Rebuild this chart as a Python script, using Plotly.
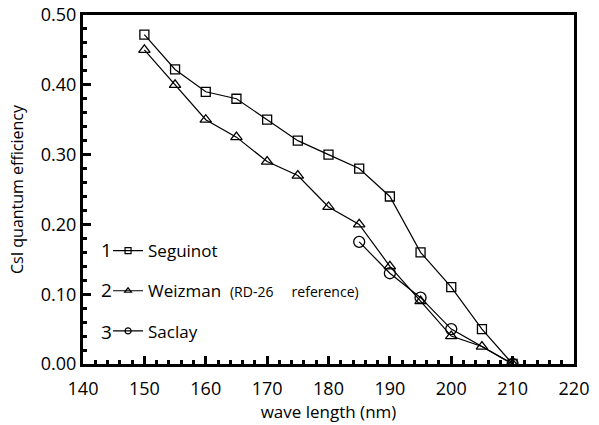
import plotly.graph_objects as go

wl_seg = [150, 155, 160, 165, 170, 175, 180, 185, 190, 195, 200, 205, 210]
qe_seg = [0.472, 0.422, 0.390, 0.380, 0.350, 0.320, 0.300, 0.280, 0.240, 0.160, 0.110, 0.050, 0.000]

wl_wei = [150, 155, 160, 165, 170, 175, 180, 185, 190, 195, 200, 205, 210]
qe_wei = [0.450, 0.400, 0.350, 0.325, 0.290, 0.270, 0.225, 0.200, 0.140, 0.090, 0.040, 0.025, 0.000]

wl_sac = [185, 190, 195, 200, 210]
qe_sac = [0.175, 0.130, 0.095, 0.050, 0.000]

x_ticks = [140, 150, 160, 170, 180, 190, 200, 210, 220]
y_ticks = [0.0, 0.1, 0.2, 0.3, 0.4, 0.5]

series_names = [
    "Seguinot",
    "Weizman&nbsp;&nbsp;<span style='font-size:14px'>(RD-26&nbsp;&nbsp;&nbsp;&nbsp;&nbsp;reference)</span>",
    "Saclay",
]
series_numbers = ["1", "2", "3"]
symbols = ["square-open", "triangle-up-open", "circle-open"]
marker_sizes = [9, 10, 11]

FONT = "Open Sans"

fig = go.Figure()
for (xs, ys), sym, ms in zip([(wl_seg, qe_seg), (wl_wei, qe_wei), (wl_sac, qe_sac)], symbols, marker_sizes):
    fig.add_trace(go.Scatter(
        x=xs, y=ys, mode="lines+markers", showlegend=False,
        line=dict(color="black", width=1.2),
        marker=dict(symbol=sym, size=ms, color="black", line=dict(width=1.3))))

# legend-only entries with small symbols (no data plotted)
for i, (name, sym) in enumerate(zip(series_names, symbols)):
    fig.add_trace(go.Scatter(
        x=[None], y=[None], mode="lines+markers", name=name, legendgroup=str(i),
        line=dict(color="black", width=1.2),
        marker=dict(symbol=sym, size=6, color="black", line=dict(width=1.2))))

axis_common = dict(
    showgrid=False, zeroline=False, showline=True, linecolor="black", linewidth=3,
    mirror=True, ticks="inside", ticklen=8, tickwidth=2.5, tickcolor="black",
    tickfont=dict(family=FONT, size=18, color="black"), automargin=False,
)

fig.update_xaxes(
    range=[140, 220], tickvals=x_ticks, ticklabelstandoff=6,
    minor=dict(dtick=2, ticks="inside", ticklen=4, tickwidth=2.5, tickcolor="black"),
    title=dict(text="wave length (nm)", font=dict(family=FONT, size=17, color="black"), standoff=8),
    **axis_common)
fig.update_yaxes(
    range=[0, 0.5], tickvals=y_ticks, tickformat=".2f",
    minor=dict(dtick=0.02, ticks="inside", ticklen=4, tickwidth=2.5, tickcolor="black"),
    title=dict(text="CsI quantum efficiency", font=dict(family=FONT, size=16, color="black"), standoff=14),
    **axis_common)

fig.update_layout(
    width=599, height=425,
    margin=dict(l=83, r=25, t=15, b=61),
    plot_bgcolor="white", paper_bgcolor="white",
    font=dict(family=FONT, color="black"),
    showlegend=True,
    legend=dict(
        x=0.051, y=0.375, xanchor="left", yanchor="top",
        bgcolor="rgba(0,0,0,0)", font=dict(family=FONT, size=17, color="black"),
        tracegroupgap=15, itemsizing="trace",
    ),
    annotations=[
        dict(text=t, xref="paper", yref="paper", x=0.064, y=yy, showarrow=False,
             xanchor="right", yanchor="middle", font=dict(family=FONT, size=19, color="black"))
        for t, yy in zip(series_numbers, [0.327, 0.212, 0.092])
    ],
)

fig.write_html("out.html")
